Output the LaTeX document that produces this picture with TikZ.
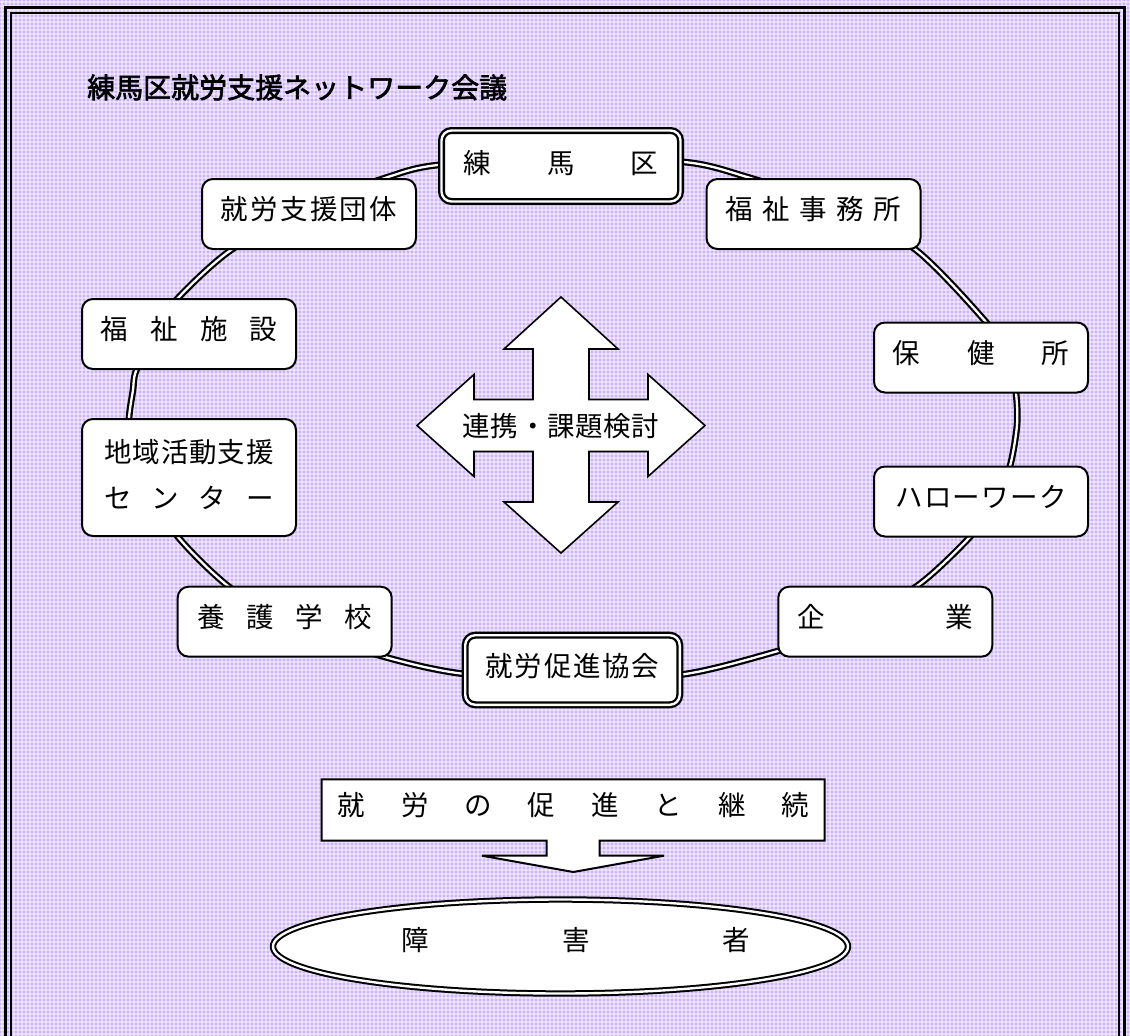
\documentclass[tikz,border=0pt]{standalone}
\usepackage{fontspec}
\usetikzlibrary{shapes.geometric}
\setmainfont{Noto Sans CJK JP}
\newfontfamily\titlefont{Noto Sans CJK JP}[FakeBold=2.2]
\newcommand\hs[1]{\hspace{#1pt}}
\newcommand\boxfont{\fontsize{27.5pt}{32pt}\selectfont}
\definecolor{bgl}{RGB}{205,180,248}
\begin{document}
\begin{tikzpicture}[x=1pt,y=-1pt,
  box/.style={draw, line width=2pt, fill=white, rounded corners=11pt,
    minimum width=214pt, minimum height=70pt, inner sep=0pt,
    text height=40.5pt, text depth=29.5pt, font=\boxfont},
  dbox/.style={draw, line width=2.3pt, double=white, double distance=2.4pt,
    fill=white, rounded corners=10pt, inner sep=0pt, font=\boxfont},
  ring/.style={draw, line width=2.2pt, double=white, double distance=2.3pt},
  lbl/.style={font=\boxfont, inner sep=0pt, text height=23.1pt, text depth=2.2pt},
  outl/.style={draw, line width=1.6pt, fill=white, line join=miter}]
\useasboundingbox (0,0) rectangle (1130,1036);
% background
\fill[bgl] (0,0) rectangle (1130,1036);
\foreach \i in {2,6,...,1130} \draw[white,opacity=0.45,line width=1.2pt] (\i,0) -- (\i,1036);
\foreach \j in {2,6,...,1036} \draw[white,opacity=0.45,line width=1.2pt] (0,\j) -- (1130,\j);
% frame
\draw[line width=2.7pt] (5.3,1036) -- (5.3,7.3) -- (1124.7,7.3) -- (1124.7,1036);
\draw[line width=2pt] (11,1036) -- (11,13) -- (1119,13) -- (1119,1036);
% title
\node[anchor=base west, inner sep=0pt, font=\fontsize{28pt}{32pt}\titlefont] (title) at (87,98) {練馬区就労支援ネットワーク会議};
% ring
\draw[ring] plot[smooth cycle] coordinates {
 (561,159) (684,162) (747,177) (840,208) (916,250) (986,322) (1010,358)
 (1016,393) (1017,425) (1010,466) (995,505) (970,537) (917,586) (840,630)
 (778,651) (682,674.5) (573,678) (465,674) (385,657) (290,625) (228,586)
 (178,537) (148,490) (130,445) (129,418) (133,390) (136,371) (155,330)
 (178,298) (231,250) (310,206) (385,178) (438,165)};
% nodes
\node[dbox, minimum width=239pt, minimum height=71pt, text height=43.25pt, text depth=27.75pt] (nerima) at (561,166) {練\hs{56}馬\hs{56}区};
\node[box] (shien) at (309,214) {就\hs{2.3}労\hs{2.3}支\hs{2.3}援\hs{2.3}団\hs{2.3}体};
\node[box] (fukushi) at (813.5,214) {福\hs{9.5}祉\hs{9.5}事\hs{9.5}務\hs{9.5}所};
\node[box] (shisetsu) at (189,334) {福\hs{22.2}祉\hs{22.2}施\hs{22.2}設};
\node[box] (hoken) at (981,357.5) {保\hs{47}健\hs{47}所};
\node[box, minimum height=117pt, text height=43.45pt, text depth=73.55pt] (chiiki) at (189,477.5)
  {\vtop{\baselineskip=46pt\hbox to 190pt{\hss 地\hs{0.9}域\hs{0.9}活\hs{0.9}動\hs{0.9}支\hs{0.9}援\hss}\hbox to 190pt{\hss セ\hs{19.8}ン\hs{19.8}タ\hs{19.8}ー\hss}}};
\node[box] (hello) at (981,501.5) {ハ\hs{1.3}ロ\hs{1.3}ー\hs{1.3}ワ\hs{1.3}ー\hs{1.3}ク};
\node[box] (yogo) at (284.7,621.7) {養\hs{21.6}護\hs{21.6}学\hs{21.6}校};
\node[box] (kigyo) at (885.3,621.7) {企\hs{120.9}業};
\node[dbox, minimum width=214.6pt, minimum height=69.6pt, text height=41.75pt, text depth=27.85pt] (sokushin) at (572.5,670) {就\hs{1.7}労\hs{1.7}促\hs{1.7}進\hs{1.7}協\hs{1.7}会};
% four-way arrow
\draw[outl] (561,297) -- (618,349) -- (589,349) -- (589,399.5) -- (648,399.5) -- (648,374.5)
  -- (705,425.5) -- (648,476.5) -- (648,451.5) -- (589,451.5) -- (589,502) -- (618,502)
  -- (561,553) -- (504,502) -- (533,502) -- (533,451.5) -- (474,451.5) -- (474,476.5)
  -- (417,425.5) -- (474,374.5) -- (474,399.5) -- (533,399.5) -- (533,349) -- (504,349) -- cycle;
\node[lbl] (renkei) at (561,426) {連\hs{0.7}携\hs{0.7}・\hs{0.7}課\hs{0.7}題\hs{0.7}検\hs{0.7}討};
% callout arrow
\draw[outl, line width=2pt] (321.7,779.3) -- (824.7,779.3) -- (824.7,840.7) -- (599.7,840.7)
  -- (599.7,855.7) -- (664,855.7) -- (573.3,872) -- (482,855.7) -- (546.7,855.7)
  -- (546.7,840.7) -- (321.7,840.7) -- cycle;
\node[lbl] (keizoku) at (573.3,805) {就\hs{35.9}労\hs{35.9}の\hs{35.9}促\hs{35.9}進\hs{35.9}と\hs{35.9}継\hs{35.9}続};
% ellipse
\node[draw, ellipse, line width=2pt, double=white, double distance=2.4pt, fill=white,
  minimum width=575pt, minimum height=94pt, inner sep=0pt, text height=21pt, text depth=12.1pt,
  font=\boxfont] (shogai) at (560.5,946.5) {\hspace{31pt}障\hs{133.2}害\hs{133.2}者};
\end{tikzpicture}
\end{document}
